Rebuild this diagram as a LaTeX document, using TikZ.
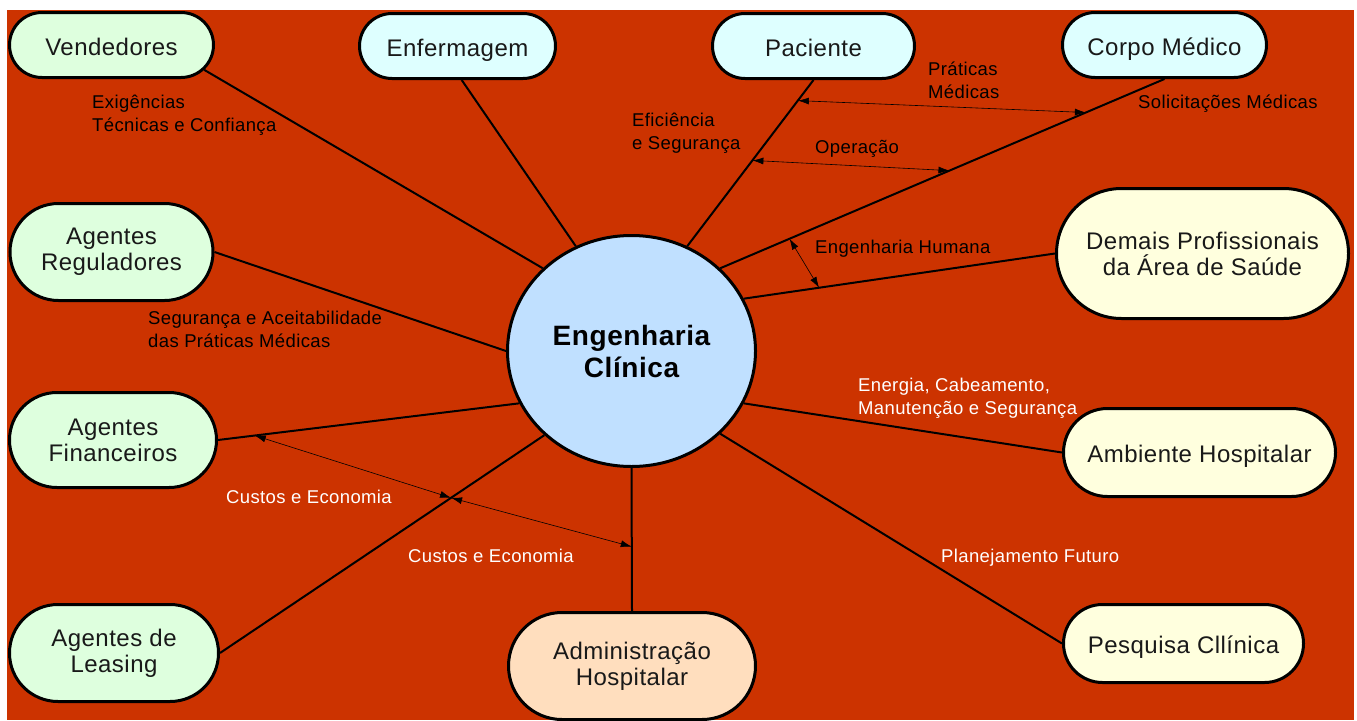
\documentclass[tikz,border=0pt]{standalone}
\usepackage{fontspec}
\setmainfont[LetterSpace=2]{Liberation Sans}
\usepackage{tikz}
\usetikzlibrary{shapes.geometric,shapes.misc,arrows.meta}
\definecolor{bgred}{RGB}{204,51,0}
\definecolor{nodegreen}{RGB}{222,255,222}
\definecolor{nodecyan}{RGB}{222,255,255}
\definecolor{nodeyellow}{RGB}{255,255,222}
\definecolor{nodepeach}{RGB}{255,222,190}
\definecolor{ecblue}{RGB}{192,224,255}
\tikzset{>={Latex[length=11pt,width=7pt]}}

\begin{document}
\begin{tikzpicture}[x=1pt,y=-1pt,
    pill/.style={rounded rectangle, draw=black, line width=3pt, inner sep=0pt,
      align=center, text=black!90, font=\fontsize{24}{26}\selectfont},
    oneline/.style={pill, text height=22pt, text depth=2pt},
    link/.style={black, line width=2pt},
    dblarrow/.style={<->, black, line width=0.6pt},
    lbl/.style={anchor=west, align=left, inner sep=0pt,
      font=\fontsize{18.5}{23}\selectfont, text=black},
    wlbl/.style={lbl, text=white}]

    % Draw the background
    \useasboundingbox (0,0) rectangle (1357,720);
    \fill[white] (0,0) rectangle (1357,720);
    \fill[bgred] (7,10) rectangle (1354,720);

    % Draw the central node
    \node[ellipse, draw=black, line width=3pt, fill=ecblue, inner sep=0pt,
      minimum width=248pt, minimum height=231pt, align=center,
      font=\bfseries\fontsize{28}{32}\selectfont] (ec) at (631.5,351) {Engenharia\\Clínica};

    % Draw the surrounding nodes
    \node[oneline, fill=nodegreen, minimum width=204pt, minimum height=65pt] (vend) at (111.5,45) {Vendedores};
    \node[oneline, fill=nodecyan, minimum width=196pt, minimum height=65pt] (enf) at (457.5,46) {Enfermagem};
    \node[oneline, fill=nodecyan, minimum width=202pt, minimum height=65pt] (pac) at (813.5,46) {Paciente};
    \node[oneline, fill=nodecyan, minimum width=204pt, minimum height=65pt] (cm) at (1164.5,45) {Corpo Médico};
    \node[pill, fill=nodegreen, minimum width=203pt, minimum height=97pt] (reg) at (111.5,252) {Agentes\\Reguladores};
    \node[pill, fill=nodegreen, minimum width=207pt, minimum height=95pt] (fin) at (113,440) {Agentes\\Financeiros};
    \node[pill, fill=nodegreen, minimum width=209pt, minimum height=97pt] (leas) at (114,653) {Agentes de\\Leasing};
    \node[pill, fill=nodepeach, minimum width=247pt, minimum height=107pt] (adm) at (632,666) {Administração\\Hospitalar};
    \node[pill, fill=nodeyellow, minimum width=292pt, minimum height=130pt] (dem) at (1202.5,253.5) {Demais Profissionais\\da Área de Saúde};
    \node[oneline, fill=nodeyellow, minimum width=272pt, minimum height=88pt] (amb) at (1199.5,452.5) {Ambiente Hospitalar};
    \node[oneline, fill=nodeyellow, minimum width=240pt, minimum height=78pt] (pes) at (1183.5,643.5) {Pesquisa Cllínica};

    % Draw the connecting lines
    \draw[link] (vend.-15) -- (ec.137);
    \draw[link] (enf.-83) -- (ec.118);
    \draw[link] (pac.south) -- coordinate[pos=0.124] (pm1) coordinate[pos=0.484] (op1) (ec.62);
    \draw[link] (cm.south) -- coordinate[pos=0.177] (pm2) coordinate[pos=0.484] (op2)
                              coordinate[pos=0.844] (eh1) (ec.43);
    \draw[link] (dem.west) -- coordinate[pos=0.758] (eh2) (ec.25);
    \draw[link] (reg.east) -- (ec.180);
    \draw[link] (fin.east) -- coordinate[pos=0.122] (cf1) (ec.205);
    \draw[link] (leas.east) -- coordinate[pos=0.7125] (cl) (ec.224);
    \draw[link] (ec.south) -- coordinate[pos=0.55] (ca) (adm.north);
    \draw[link] (ec.-25) -- (amb.west);
    \draw[link] (ec.-43.5) -- (pes.west);

    % Draw the double arrows between lines
    \draw[dblarrow] (pm1) -- (pm2);
    \draw[dblarrow] (op1) -- (op2);
    \draw[dblarrow] (eh1) -- (eh2);
    \draw[dblarrow] (cf1) -- (cl);
    \draw[dblarrow] (cl) -- (ca);

    % Draw the labels
    \node[lbl] (lvend) at (92,115.5) {Exigências\\Técnicas e Confiança};
    \node[lbl] (lpac) at (632,133) {Eficiência\\e Segurança};
    \node[lbl] (lprat) at (928,80) {Práticas\\Médicas};
    \node[lbl] (lcm) at (1138,104) {Solicitações Médicas};
    \node[lbl] (lop) at (815,149) {Operação};
    \node[lbl] (leh) at (815,249) {Engenharia Humana};
    \node[lbl] (lreg) at (148,329.5) {Segurança e Aceitabilidade\\das Práticas Médicas};
    \node[wlbl] (lamb) at (858,398.5) {Energia, Cabeamento,\\Manutenção e Segurança};
    \node[wlbl] (lfin) at (226,497) {Custos e Economia};
    \node[wlbl] (ladm) at (408,556) {Custos e Economia};
    \node[wlbl] (lpes) at (941,558) {Planejamento Futuro};
\end{tikzpicture}
\end{document}
